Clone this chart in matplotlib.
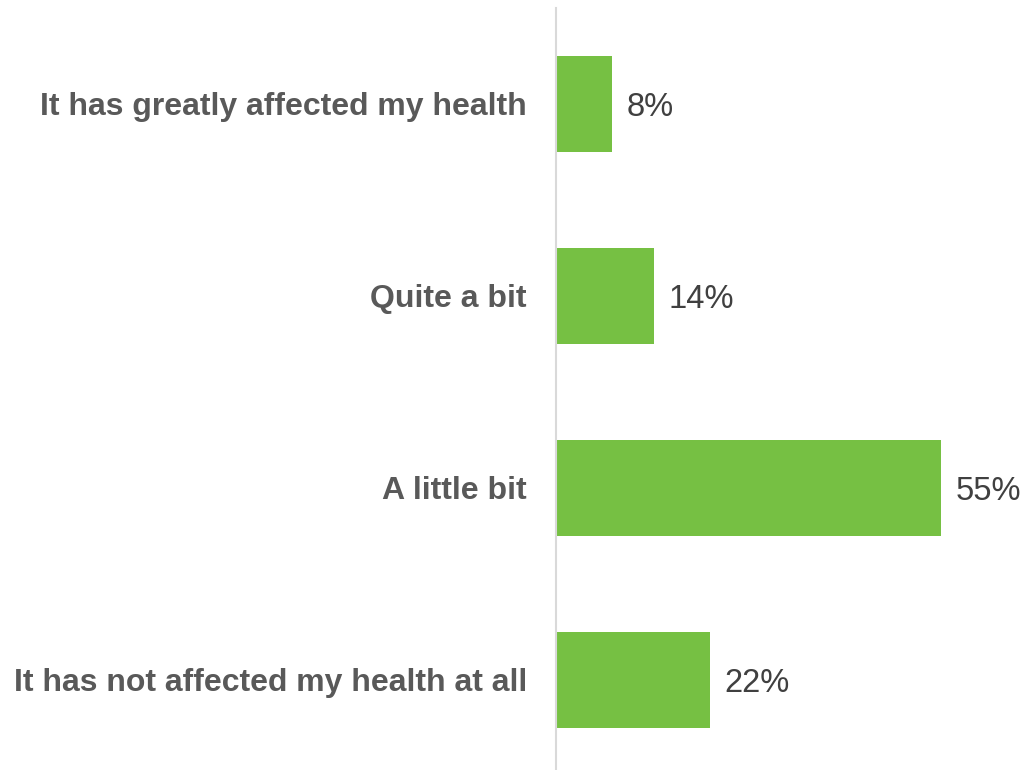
import matplotlib
matplotlib.use("Agg")
import matplotlib.pyplot as plt

categories = ["It has greatly affected my health", "Quite a bit",
              "A little bit", "It has not affected my health at all"]
values = [8, 14, 55, 22]
labels = ["8%", "14%", "55%", "22%"]

plt.rcParams['font.family'] = ['Liberation Sans', 'DejaVu Sans']

fig = plt.figure(figsize=(10.23, 7.70), dpi=100)
ax = fig.add_axes([556 / 1023, 0, 467 / 1023, 1])

ypos = list(range(len(categories)))
ax.barh(ypos, values, height=0.5, color="#76C043")

ax.set_xlim(0, 467 / 7.0)
ax.set_ylim((770 - 104) / 192, -104 / 192)

for y, v, lab in zip(ypos, values, labels):
    ax.text(v + 2.1, y, lab, va="center_baseline", ha="left", fontsize=23.5,
            color="#404040")

ax.set_yticks(ypos)
ax.set_yticklabels(categories, fontsize=23, fontweight="bold", color="#595959")
ax.tick_params(axis="y", length=0, pad=21)
ax.set_xticks([])

for s in ["top", "right", "bottom"]:
    ax.spines[s].set_visible(False)
ax.spines["left"].set_color("#D9D9D9")
ax.spines["left"].set_linewidth(1.5)
ax.spines["left"].set_bounds(-0.5, 3.47)

fig.savefig("out.png", dpi=100)
